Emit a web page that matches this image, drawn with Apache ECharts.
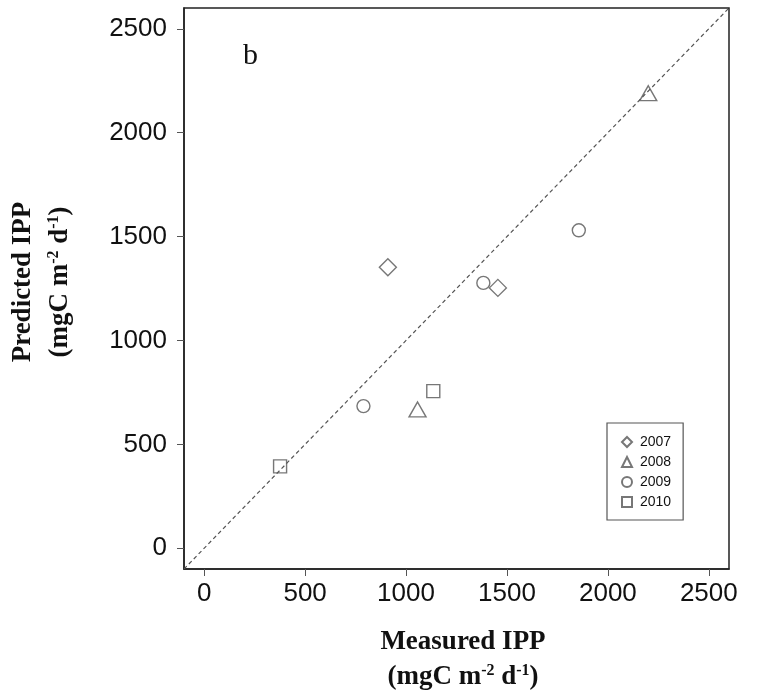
<!DOCTYPE html>
<html>
<head>
<meta charset="utf-8">
<script src="https://cdn.jsdelivr.net/npm/echarts@6/dist/echarts.min.js"></script>
<style>
  html, body { margin: 0; padding: 0; background: #fff; }
  #main { width: 763px; height: 697px; }
</style>
</head>
<body>
<div id="main"></div>
<script>
// measured vs predicted IPP, one array per year
var years = ['2007', '2008', '2009', '2010'];
var ipp2007 = [[910, 1352], [1455, 1253]];
var ipp2008 = [[1057, 668], [2200, 2190]];
var ipp2009 = [[789, 684], [1383, 1277], [1856, 1530]];
var ipp2010 = [[376, 394], [1135, 756]];
var oneToOne = [[-100, -100], [2600, 2600]];
var tickValues = [0, 500, 1000, 1500, 2000, 2500];

var myChart = echarts.init(document.getElementById('main'));

var grey = '#555';
function hollow(name, data, symbol, size) {
  return {
    name: name,
    type: 'scatter',
    data: data,
    symbol: symbol,
    symbolSize: size,
    itemStyle: { color: 'rgba(0,0,0,0)', borderColor: grey, borderWidth: 1.4 },
    z: 3
  };
}

var axisCommon = {
  type: 'value',
  min: -100,
  max: 2600,
  interval: 500,
  splitLine: { show: false },
  axisLine: { show: true, onZero: false, lineStyle: { color: '#222', width: 1.5 } },
  axisTick: { show: true, length: 7, lineStyle: { color: '#555', width: 1 },
    customValues: tickValues },
  axisLabel: { color: '#111', fontSize: 26, fontFamily: 'Liberation Sans',
    customValues: tickValues, formatter: function (v) { return String(v); } }
};

var titleRich = {
  t: { font: 'bold 27px "Liberation Serif"' },
  s: { font: 'bold 16px "Liberation Serif"', padding: [0, 0, 12, 0] }
};

var option = {
  animation: false,
  grid: { left: 184, top: 8, right: 34, bottom: 128, show: true,
    borderColor: '#222', borderWidth: 1.5 },
  xAxis: Object.assign({}, axisCommon, {
    axisLabel: Object.assign({}, axisCommon.axisLabel, { margin: 12 })
  }),
  yAxis: Object.assign({}, axisCommon, {
    axisLabel: Object.assign({}, axisCommon.axisLabel, { margin: 17 })
  }),
  legend: {
    orient: 'vertical',
    left: 607,
    top: 423,
    padding: [12, 12, 11, 14],
    itemGap: 6,
    itemWidth: 10,
    itemHeight: 10,
    borderColor: '#555',
    borderWidth: 1.2,
    textStyle: { fontSize: 14, fontFamily: 'Liberation Sans', color: '#111', padding: [0, 0, 0, 3] },
    data: years
  },
  graphic: [
    { type: 'text', x: 243, y: 71,
      style: { text: 'b', font: '30px "Liberation Serif"', fill: '#111', textVerticalAlign: 'bottom' } },
    { type: 'text', x: 463, y: 642,
      style: { text: '{t|Measured IPP}', fill: '#111', textAlign: 'center', textVerticalAlign: 'middle',
        rich: titleRich } },
    { type: 'text', x: 463, y: 677,
      style: { text: '{t|(mgC m}{s|-2}{t| d}{s|-1}{t|)}', fill: '#111', textAlign: 'center', textVerticalAlign: 'middle',
        rich: titleRich } },
    { type: 'text', x: 23, y: 282, rotation: Math.PI / 2,
      style: { text: '{t|Predicted IPP}', fill: '#111', textAlign: 'center', textVerticalAlign: 'middle',
        rich: titleRich } },
    { type: 'text', x: 60, y: 282, rotation: Math.PI / 2,
      style: { text: '{t|(mgC m}{s|-2}{t| d}{s|-1}{t|)}', fill: '#111', textAlign: 'center', textVerticalAlign: 'middle',
        rich: titleRich } }
  ],
  series: [
    {
      type: 'line',
      data: oneToOne,
      symbol: 'none',
      lineStyle: { color: '#555', width: 1.2, type: [4, 3] },
      silent: true,
      z: 1
    },
    hollow('2007', ipp2007, 'diamond', [17, 17]),
    hollow('2008', ipp2008, 'triangle', [17, 15]),
    hollow('2009', ipp2009, 'circle', 13),
    hollow('2010', ipp2010, 'rect', 13)
  ]
};

myChart.setOption(option);
</script>
</body>
</html>
